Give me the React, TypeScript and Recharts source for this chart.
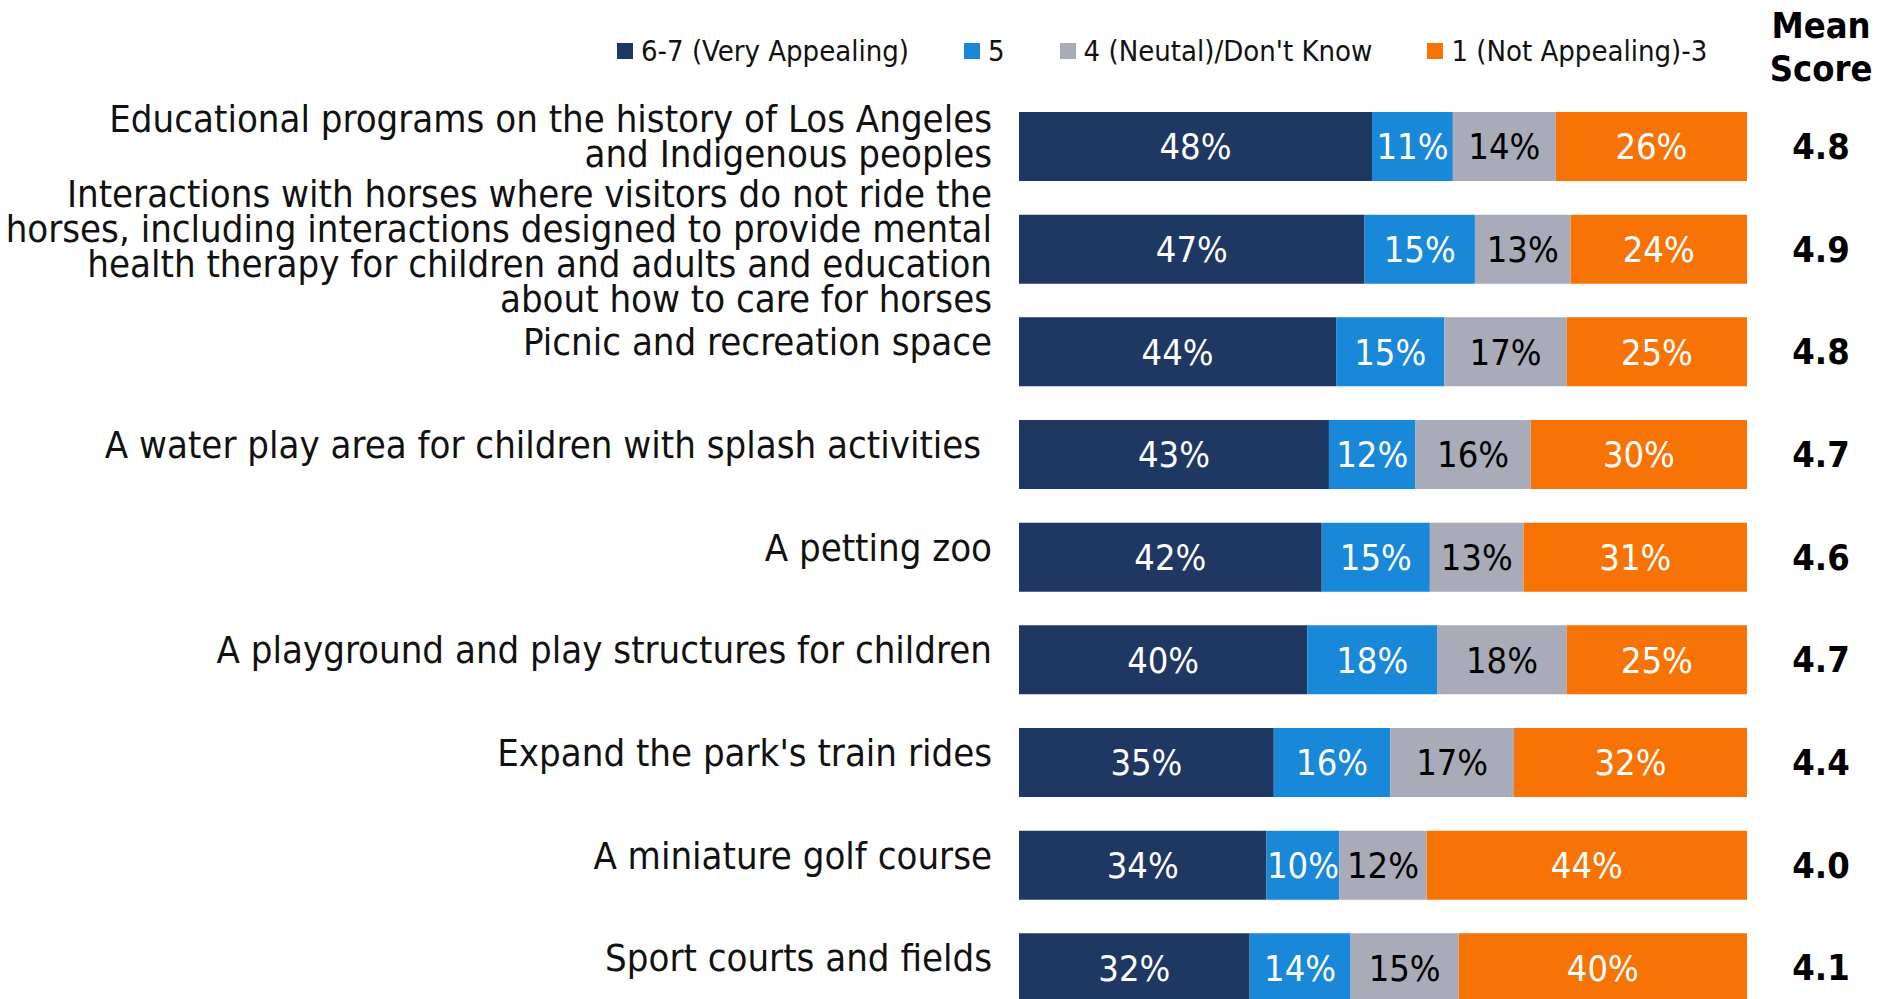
import React from 'react';
import { BarChart, Bar, XAxis, YAxis, LabelList } from 'recharts';

const categories = [
  'Educational programs on the history of Los Angeles\nand Indigenous peoples',
  'Interactions with horses where visitors do not ride the\nhorses, including interactions designed to provide mental\nhealth therapy for children and adults and education\nabout how to care for horses',
  'Picnic and recreation space',
  'A water play area for children with splash activities\u00a0',
  'A petting zoo',
  'A playground and play structures for children',
  "Expand the park's train rides",
  'A miniature golf course',
  'Sport courts and fields',
];

const veryAppealing = [48, 47, 44, 43, 42, 40, 35, 34, 32];
const five = [11, 15, 15, 12, 15, 18, 16, 10, 14];
const neutral = [14, 13, 17, 16, 13, 18, 17, 12, 15];
const notAppealing = [26, 24, 25, 30, 31, 25, 32, 44, 40];
const meanScores = ['4.8', '4.9', '4.8', '4.7', '4.6', '4.7', '4.4', '4.0', '4.1'];

const seriesNames = ['6-7 (Very Appealing)', '5', "4 (Neutal)/Don't Know", '1 (Not Appealing)-3'];
const colors = ['#1F3763', '#1A88D8', '#A9ABB8', '#F77306'];
const labelColors = ['#fff', '#fff', '#000', '#fff'];

const data = categories.map((name, i) => ({
  name,
  v67: veryAppealing[i],
  v5: five[i],
  v4: neutral[i],
  v13: notAppealing[i],
  mean: meanScores[i],
}));

const FONT = "'Liberation Sans Narrow', 'DejaVu Sans Condensed', 'Open Sans', sans-serif";

const CategoryTick = (props: any) => {
  const { x, y, payload } = props;
  const lines: string[] = String(payload.value).split('\n');
  const lh = 35;
  const shift = -9.5 + Math.max(0, lines.length - 2) * 3.25;
  const startY = y + shift - ((lines.length - 1) * lh) / 2;
  return (
    <text x={x} y={startY} textAnchor="end" fill="#111" fontSize={38} fontFamily={FONT} dominantBaseline="central">
      {lines.map((l, i) => (
        <tspan key={i} x={x} y={startY + i * lh}>{l}</tspan>
      ))}
    </text>
  );
};

const MeanLabel = (props: any) => {
  const { x, y, width, height, value } = props;
  return (
    <text x={x + width + 74} y={y + height / 2} textAnchor="middle" dominantBaseline="central" fontSize={36} fontWeight={700} fontFamily={FONT} fill="#000">
      {value}
    </text>
  );
};

const keys = ['v67', 'v5', 'v4', 'v13'];

export default function App() {
  return (
    <div style={{ position: 'absolute', left: 0, top: 0, width: 1879, height: 999, overflow: 'hidden', background: '#fff', fontFamily: FONT }}>
      <div style={{ position: 'absolute', left: 617, top: 34, display: 'flex', alignItems: 'center', gap: 55, fontSize: 29, color: '#111', whiteSpace: 'nowrap' }}>
        {seriesNames.map((n, i) => (
          <div key={n} style={{ display: 'flex', alignItems: 'center', gap: 8 }}>
            <span style={{ display: 'inline-block', width: 16, height: 16, background: colors[i] }} />
            <span>{n}</span>
          </div>
        ))}
      </div>
      <div style={{ position: 'absolute', left: 1761, width: 120, top: 4, textAlign: 'center', fontSize: 36, fontWeight: 700, lineHeight: '43px', color: '#000' }}>
        Mean<br />Score
      </div>
      <BarChart
        width={1879}
        height={1019}
        data={data}
        layout="vertical"
        stackOffset="expand"
        margin={{ top: 95, right: 132, bottom: 0, left: 0 }}
        barSize={69}
      >
        <XAxis type="number" hide domain={[0, 1]} />
        <YAxis
          type="category"
          dataKey="name"
          width={1019}
          axisLine={false}
          tickLine={false}
          tickSize={0}
          tickMargin={27}
          interval={0}
          tick={<CategoryTick />}
        />
        {keys.map((k, i) => (
          <Bar key={k} dataKey={k} stackId="a" fill={colors[i]} isAnimationActive={false}>
            <LabelList
              dataKey={k}
              position="center"
              formatter={(v: any) => `${v}%`}
              fill={labelColors[i]}
              fontSize={36}
              fontFamily={FONT}
            />
            {i === 3 && <LabelList dataKey="mean" content={<MeanLabel />} />}
          </Bar>
        ))}
      </BarChart>
    </div>
  );
}
